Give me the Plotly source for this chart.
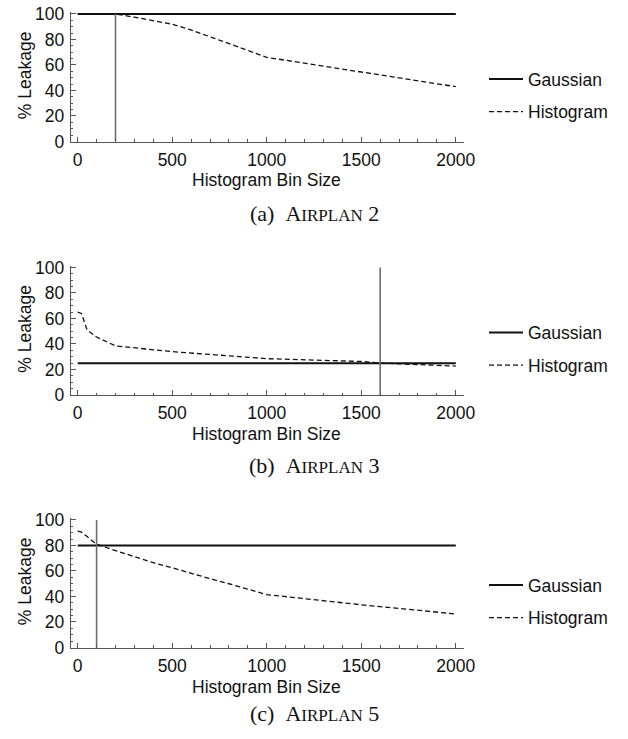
import plotly.graph_objects as go

# ---------------- data ----------------
gauss_x = [0, 2000]

bins_a = [0, 100, 200, 300, 400, 500, 600, 700, 800, 900, 1000, 1500, 2000]
hist_a = [100, 100, 100, 97.5, 95, 92, 87.5, 82, 76.5, 71, 66, 54.5, 43]
gauss_a = 100
vline_a = 200

bins_b = [0, 20, 50, 100, 200, 500, 1000, 1500, 1600, 2000]
hist_b = [65, 64, 51, 45.5, 38.5, 34, 28.5, 26.3, 25, 22.7]
gauss_b = 25
vline_b = 1600

bins_c = [0, 20, 50, 100, 200, 300, 400, 500, 600, 700, 800, 900, 1000, 1500, 2000]
hist_c = [91.3, 90.5, 87, 81, 76, 71, 66.5, 62.5, 58, 54, 50, 45.5, 41.5, 33.5, 26.3]
gauss_c = 80
vline_c = 100

captions = ["(a)", "(b)", "(c)"]
plan_nums = ["2", "3", "5"]
x_tickvals = [0, 500, 1000, 1500, 2000]
y_tickvals = [0, 20, 40, 60, 80, 100]

# ---------------- layout geometry ----------------
W, H = 628, 739
FONT = "Liberation Sans, Arial, sans-serif"
SERIF = "Liberation Serif, Times New Roman, serif"
FS = 17.5
AXC = "#555555"

x_dom = [70.7 / W, 464.3 / W]
zero_px = [141.5, 395.0, 647.5]
caption_px = [213, 465, 713]
ppu = 1.275
YMAX = 101.5

panels = [
    (bins_a, hist_a, gauss_a, vline_a),
    (bins_b, hist_b, gauss_b, vline_b),
    (bins_c, hist_c, gauss_c, vline_c),
]

fig = go.Figure()
annotations = []

for i, (bx, hy, g, vl) in enumerate(panels):
    n = "" if i == 0 else str(i + 1)
    xa, ya = "x" + n, "y" + n
    leg = "legend" if i == 0 else "legend" + str(i + 1)

    fig.add_trace(go.Scatter(
        x=gauss_x, y=[g, g], mode="lines", name="Gaussian",
        line=dict(color="#111111", width=2), xaxis=xa, yaxis=ya,
        legend=leg, legendgroup="g%d" % i, hoverinfo="skip"))
    fig.add_trace(go.Scatter(
        x=bx, y=hy, mode="lines", name="Histogram",
        line=dict(color="#111111", width=1.3, dash="5px,3px"),
        xaxis=xa, yaxis=ya, legend=leg, legendgroup="h%d" % i,
        hoverinfo="skip"))
    fig.add_trace(go.Scatter(
        x=[vl, vl], y=[0, 100], mode="lines", showlegend=False,
        line=dict(color="#6e6e6e", width=1.6), xaxis=xa, yaxis=ya,
        hoverinfo="skip"))

    bot = zero_px[i]
    top = bot - YMAX * ppu
    y_dom = [1 - bot / H, 1 - top / H]

    fig.update_layout(**{
        ("xaxis" + n): dict(
            domain=x_dom, range=[-37, 2045], anchor=ya,
            showline=True, linecolor=AXC, linewidth=1,
            showgrid=False, zeroline=False,
            tickmode="array", tickvals=x_tickvals,
            ticks="inside", ticklen=5, tickcolor=AXC, tickwidth=1,
            minor=dict(ticks="inside", dtick=100, tick0=0, ticklen=2.5,
                       tickcolor=AXC, showgrid=False),
            tickfont=dict(family=FONT, size=FS, color="#111111"),
            ticklabelstandoff=2, automargin=False, fixedrange=True),
        ("yaxis" + n): dict(
            domain=y_dom, range=[0, YMAX], anchor=xa,
            showline=True, linecolor=AXC, linewidth=1,
            showgrid=False, zeroline=False,
            tickmode="array", tickvals=y_tickvals,
            ticks="inside", ticklen=5, tickcolor=AXC, tickwidth=1,
            minor=dict(ticks="inside", dtick=5, tick0=0, ticklen=2.5,
                       tickcolor=AXC, showgrid=False),
            tickfont=dict(family=FONT, size=FS, color="#111111"),
            ticklabelstandoff=2, automargin=False, fixedrange=True),
        leg: dict(
            x=484 / W, xanchor="left",
            y=1 - (bot - 46) / H, yanchor="middle",
            font=dict(family=FONT, size=FS, color="#111111"),
            bgcolor="rgba(0,0,0,0)", borderwidth=0,
            itemwidth=34, tracegroupgap=7, traceorder="grouped"),
    })

    annotations.append(dict(
        text="Histogram Bin Size", x=1000, xref=xa, y=1 - (bot + 39) / H,
        yref="paper", showarrow=False, xanchor="center", yanchor="middle",
        font=dict(family=FONT, size=FS, color="#111111")))
    annotations.append(dict(
        text="% Leakage", x=25 / W, xref="paper", y=52, yref=ya,
        textangle=-90, showarrow=False, xanchor="center", yanchor="middle",
        font=dict(family=FONT, size=FS, color="#111111")))
    annotations.append(dict(
        text=captions[i] + "\u00a0\u00a0A<span style='font-size:17px'>IRPLAN</span>\u00a0" + plan_nums[i],
        x=314 / W, xref="paper", y=1 - caption_px[i] / H, yref="paper",
        showarrow=False, xanchor="center", yanchor="middle",
        font=dict(family=SERIF, size=22, color="#111111")))

fig.update_layout(
    width=W, height=H,
    margin=dict(l=0, r=0, t=0, b=0),
    paper_bgcolor="white", plot_bgcolor="white",
    annotations=annotations,
)

fig.write_html("out.html")
